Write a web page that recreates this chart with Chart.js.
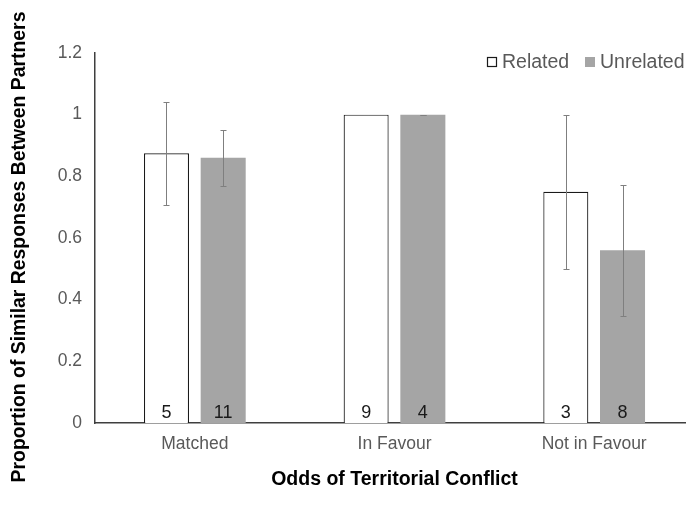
<!DOCTYPE html>
<html>
<head>
<meta charset="utf-8">
<script src="https://cdn.jsdelivr.net/npm/chart.js@4/dist/chart.umd.min.js"></script>
<style>
  html, body { margin: 0; padding: 0; background: #fff; overflow: hidden; }
  #wrap { width: 694px; height: 516px; position: relative; }
</style>
</head>
<body>
<div id="wrap"><canvas id="chart"></canvas></div>
<script>
// Proportion of similar responses between partners, by odds of territorial conflict
const categories = ['Matched', 'In Favour', 'Not in Favour'];
const relatedValues = [0.875, 1.0, 0.75];
const unrelatedValues = [0.86, 1.0, 0.56];
const relatedErrors = [0.167, 0, 0.25];
const unrelatedErrors = [0.09, 0, 0.213];
const relatedCounts = [5, 9, 3];
const unrelatedCounts = [11, 4, 8];
const yTicks = [0, 0.2, 0.4, 0.6, 0.8, 1, 1.2];
const yTitle = 'Proportion of Similar Responses Between Partners';
const xTitle = 'Odds of Territorial Conflict';

const FONT = "'Liberation Sans', Arial, sans-serif";

// Error bars with small caps, taken from each dataset's errors array
const errorBars = {
  id: 'errorBars',
  afterDatasetsDraw(chart) {
    const ctx = chart.ctx;
    const y = chart.scales.y;
    ctx.save();
    ctx.strokeStyle = '#7f7f7f';
    ctx.lineWidth = 1;
    chart.data.datasets.forEach((ds, di) => {
      chart.getDatasetMeta(di).data.forEach((bar, i) => {
        const v = ds.data[i], e = ds.errors[i];
        const x = Math.round(bar.x) + 0.5;
        const yTop = Math.round(y.getPixelForValue(v + e)) + 0.5;
        const yBot = Math.round(y.getPixelForValue(v - e)) + 0.5;
        ctx.beginPath();
        ctx.moveTo(x, yTop); ctx.lineTo(x, yBot);
        ctx.moveTo(x - 3, yTop); ctx.lineTo(x + 3, yTop);
        ctx.moveTo(x - 3, yBot); ctx.lineTo(x + 3, yBot);
        ctx.stroke();
      });
    });
    ctx.restore();
  }
};

// Sample sizes written at the foot of each bar
const countLabels = {
  id: 'countLabels',
  afterDatasetsDraw(chart) {
    const ctx = chart.ctx;
    const base = chart.scales.y.getPixelForValue(0);
    ctx.save();
    ctx.fillStyle = '#1a1a1a';
    ctx.font = '18px ' + FONT;
    ctx.textAlign = 'center';
    ctx.textBaseline = 'middle';
    chart.data.datasets.forEach((ds, di) => {
      chart.getDatasetMeta(di).data.forEach((bar, i) => {
        ctx.fillText(String(ds.counts[i]), bar.x, base - 10);
      });
    });
    ctx.restore();
  }
};

// Legend in the top-right corner and the vertical axis title
const decorations = {
  id: 'decorations',
  afterDraw(chart) {
    const ctx = chart.ctx;
    const yMid = 62;
    const starts = [487, 585];
    ctx.save();
    ctx.font = '19.5px ' + FONT;
    ctx.textBaseline = 'middle';
    chart.data.datasets.forEach((ds, di) => {
      const x = starts[di];
      ctx.fillStyle = ds.backgroundColor;
      ctx.fillRect(x, yMid - 5, 10, 10);
      if (ds.borderWidth) {
        ctx.strokeStyle = ds.borderColor;
        ctx.lineWidth = 1.2;
        ctx.strokeRect(x + 0.5, yMid - 4.5, 9, 9);
      }
      ctx.fillStyle = '#595959';
      ctx.fillText(ds.label, x + 15, yMid + 1);
    });

    ctx.translate(20, 247);
    ctx.rotate(-Math.PI / 2);
    ctx.font = 'bold 19.4px ' + FONT;
    ctx.fillStyle = '#000';
    ctx.textAlign = 'center';
    ctx.fillText(yTitle, 0, 0);
    ctx.restore();
  }
};

new Chart(document.getElementById('chart'), {
  type: 'bar',
  data: {
    labels: categories,
    datasets: [
      {
        label: 'Related',
        data: relatedValues,
        errors: relatedErrors,
        counts: relatedCounts,
        backgroundColor: '#ffffff',
        borderColor: '#1a1a1a',
        borderWidth: 1.2,
        barPercentage: 0.794,
        categoryPercentage: 0.568
      },
      {
        label: 'Unrelated',
        data: unrelatedValues,
        errors: unrelatedErrors,
        counts: unrelatedCounts,
        backgroundColor: '#a5a5a5',
        borderWidth: 0,
        barPercentage: 0.794,
        categoryPercentage: 0.568
      }
    ]
  },
  options: {
    responsive: true,
    maintainAspectRatio: false,
    animation: false,
    layout: { padding: { top: 53, right: 0, bottom: 0, left: 0 } },
    plugins: {
      legend: { display: false },
      tooltip: { enabled: false }
    },
    scales: {
      x: {
        grid: { display: false, drawTicks: false },
        border: { display: true, color: '#3f3f3f', width: 1.5 },
        ticks: { color: '#595959', font: { family: FONT, size: 17.5 }, padding: 11 },
        title: {
          display: true,
          text: xTitle,
          color: '#000',
          font: { family: FONT, size: 19.5, weight: 'bold' },
          padding: { top: 0, bottom: 25 }
        },
        afterFit(scale) { scale.height = 93; }
      },
      y: {
        min: 0,
        max: 1.2,
        grid: { display: false, drawTicks: false },
        border: { display: true, color: '#3f3f3f', width: 1.5 },
        afterBuildTicks(scale) { scale.ticks = yTicks.map(v => ({ value: v })); },
        ticks: {
          color: '#595959',
          font: { family: FONT, size: 17.5 },
          padding: 13,
          callback: v => String(v)
        },
        afterFit(scale) { scale.width = 95; }
      }
    }
  },
  plugins: [errorBars, countLabels, decorations]
});
</script>
</body>
</html>
